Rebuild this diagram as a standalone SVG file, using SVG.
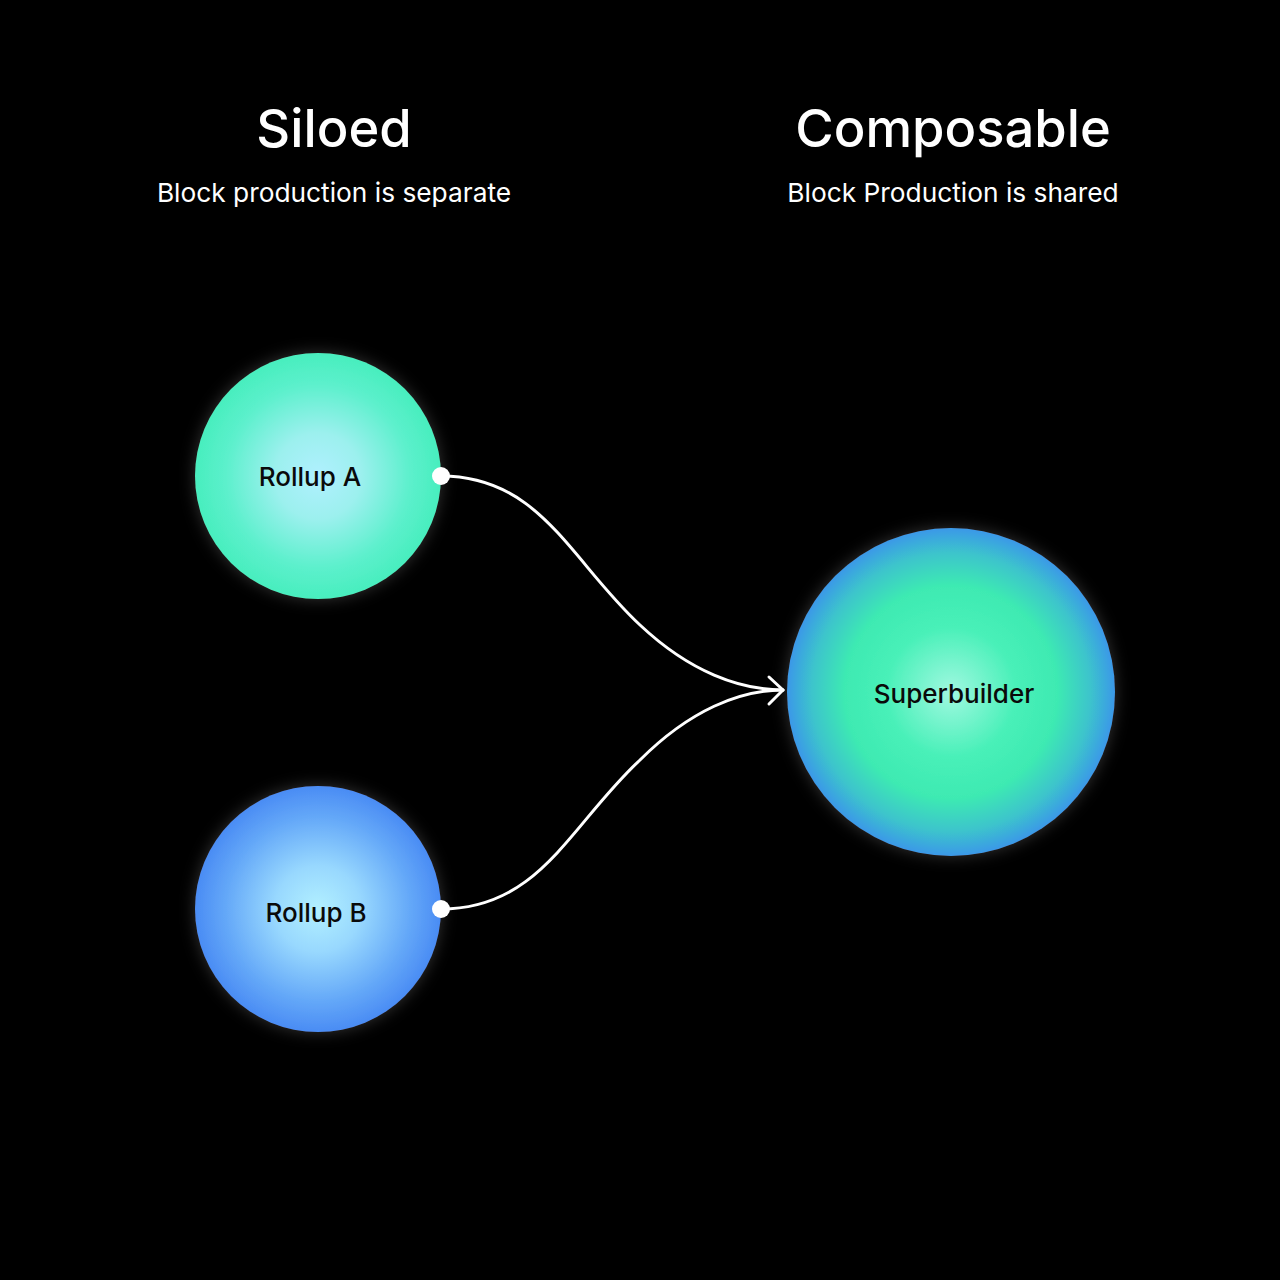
<svg xmlns="http://www.w3.org/2000/svg" width="1280" height="1280" viewBox="0 0 1280 1280">
<defs>
<style>
.title{font-family:Inter,"Liberation Sans",sans-serif;font-size:52.5px;font-weight:500;fill:#fff;text-anchor:middle}
.sub{font-family:Inter,"Liberation Sans",sans-serif;font-size:26.3px;font-weight:400;fill:#fff;text-anchor:middle}
.lbl{font-family:Inter,"Liberation Sans",sans-serif;font-size:26px;font-weight:500;fill:#0a0a0a;text-anchor:middle}
.wire{fill:none;stroke:#fff;stroke-width:3;stroke-linecap:round;stroke-linejoin:round}
</style>
<radialGradient id="gA" cx="50%" cy="50%" r="50%">
<stop offset="0" stop-color="#b0f0ff"/>
<stop offset="0.35" stop-color="#9cf0ee"/>
<stop offset="0.75" stop-color="#5cf0cc"/>
<stop offset="1" stop-color="#48eebe"/>
</radialGradient>
<radialGradient id="gB" cx="50%" cy="50%" r="50%">
<stop offset="0" stop-color="#b2f0ff"/>
<stop offset="0.35" stop-color="#98d8fe"/>
<stop offset="0.75" stop-color="#64a8f8"/>
<stop offset="1" stop-color="#4a8cf4"/>
</radialGradient>
<radialGradient id="gS" cx="50%" cy="50%" r="50%">
<stop offset="0" stop-color="#a0f8e0"/>
<stop offset="0.4" stop-color="#48f0b8"/>
<stop offset="0.65" stop-color="#3eeab2"/>
<stop offset="0.85" stop-color="#3cc4cc"/>
<stop offset="1" stop-color="#3a98e8"/>
</radialGradient>
<filter id="glow" x="-30%" y="-30%" width="160%" height="160%">
<feGaussianBlur in="SourceAlpha" stdDeviation="8" result="b"/>
<feFlood flood-color="#ffffff" flood-opacity="0.2"/>
<feComposite in2="b" operator="in" result="g"/>
<feMerge><feMergeNode in="g"/><feMergeNode in="SourceGraphic"/></feMerge>
</filter>
</defs>
<rect width="1280" height="1280" fill="#000"/>
<g id="headers">
<text class="title" x="334" y="147">Siloed</text>
<text class="sub" x="334" y="202">Block production is separate</text>
<text class="title" x="953" y="147">Composable</text>
<text class="sub" x="953" y="202">Block Production is shared</text>
</g>
<g id="rollupA">
<circle cx="318" cy="476" r="123" fill="url(#gA)" filter="url(#glow)"/>
<text class="lbl" x="310" y="486">Rollup A</text>
</g>
<g id="rollupB">
<circle cx="318" cy="909" r="123" fill="url(#gB)" filter="url(#glow)"/>
<text class="lbl" x="316" y="922">Rollup B</text>
</g>
<g id="superbuilder">
<circle cx="951" cy="692" r="164" fill="url(#gS)" filter="url(#glow)"/>
<text class="lbl" x="954" y="703">Superbuilder</text>
</g>
<g id="connectors">
<path class="wire" d="M441,476 C540,476 570,560 640,625 C690,672 740,690 783,690"/>
<path class="wire" d="M441,909 C540,909 570,825 640,760 C690,710 740,690 783,690"/>
<path class="wire" d="M769,677 L783,690 L769,704"/>
<circle cx="441" cy="476" r="9" fill="#fff"/>
<circle cx="441" cy="909" r="9" fill="#fff"/>
</g>
</svg>
